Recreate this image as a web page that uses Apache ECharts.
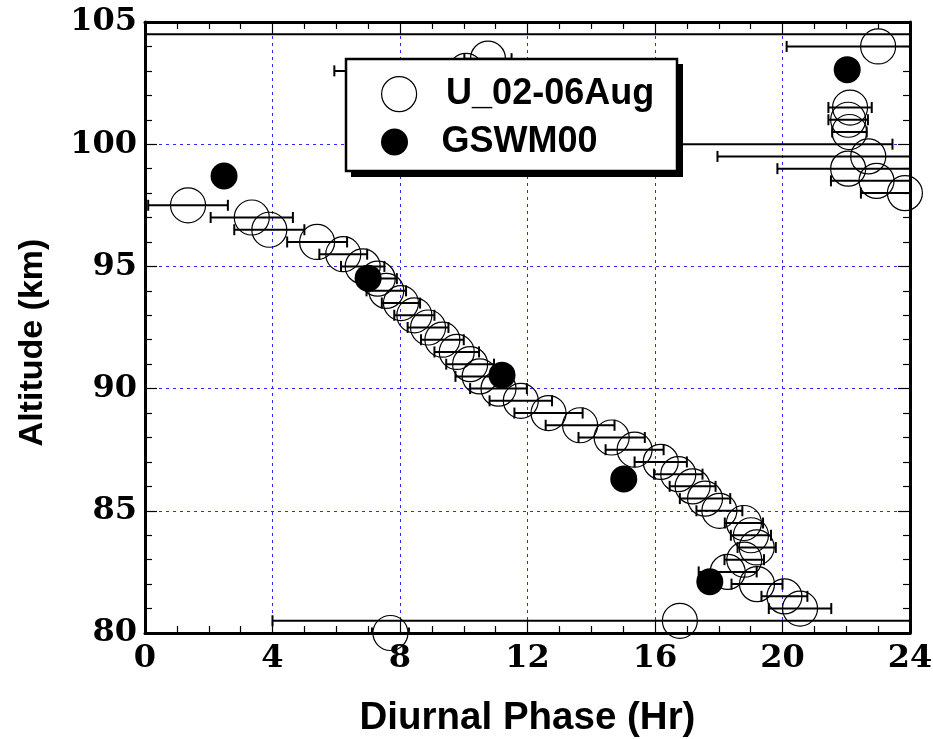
<!DOCTYPE html>
<html>
<head>
<meta charset="utf-8">
<script src="https://cdn.jsdelivr.net/npm/echarts@6/dist/echarts.min.js"></script>
<style>
  html, body { margin: 0; padding: 0; background: #fff; }
  #chart { width: 933px; height: 739px; }
</style>
</head>
<body>
<div id="chart"></div>
<script>
// Observed diurnal phase profile (altitude, phase, error half-width), 0.5 km steps
const uAlt = [80.0, 80.5, 81.0, 81.5, 82.0, 82.5, 83.0, 83.5, 84.0, 84.5,
              85.0, 85.5, 86.0, 86.5, 87.0, 87.5, 88.0, 88.5, 89.0, 89.5,
              90.0, 90.5, 91.0, 91.5, 92.0, 92.5, 93.0, 93.5, 94.0, 94.5,
              95.0, 95.5, 96.0, 96.5, 97.0, 97.5, 98.0, 98.5, 99.0, 99.5,
              100.0, 100.5, 101.0, 101.5, 103.0, 103.5, 104.0, 104.5];
const uPhase = [7.70, 16.78, 20.55, 20.06, 19.20, 18.28, 18.80, 19.19, 19.01, 18.79,
                18.02, 17.57, 17.18, 16.73, 16.18, 15.36, 14.64, 13.65, 12.66, 11.79,
                11.09, 10.50, 10.20, 9.78, 9.33, 8.88, 8.45, 8.03, 7.57, 7.30,
                6.83, 6.22, 5.40, 3.90, 3.35, 1.35, 23.84, 22.95, 22.06, 22.69,
                15.60, 22.10, 22.06, 22.12, 10.07, 10.76, 23.00, 24.70];
const uErr = [0.58, 12.78, 0.98, 0.72, 0.80, 0.91, 0.62, 0.60, 0.63, 0.60,
              0.72, 0.79, 0.72, 0.76, 0.82, 0.91, 1.04, 1.08, 1.07, 0.98,
              0.89, 0.76, 0.75, 0.70, 0.67, 0.64, 0.63, 0.60, 0.62, 0.60,
              0.68, 0.75, 0.94, 1.10, 1.29, 1.25, 1.38, 1.43, 2.22, 4.73,
              7.85, 0.54, 0.62, 0.68, 4.13, 0.74, 2.87, 25.00];

// GSWM00 model phases
const gswmAlt = [98.7, 94.52, 90.55, 86.3, 82.1, 103.05];
const gswmPhase = [2.48, 7.00, 11.20, 15.02, 17.72, 22.03];

// Axis ranges: [min, max, major step, minor divisions]
const xAxisRange = [0, 24, 4, 4];
const yAxisRange = [80, 105, 5, 5];

const seriesNames = ['U_02-06Aug', 'GSWM00'];
const xTitle = 'Diurnal Phase (Hr)';
const yTitle = 'Altitude (km)';

const openPoints = uAlt.map((a, i) => [uPhase[i], a]);
const errBars = uAlt.map((a, i) => [uPhase[i] - uErr[i], uPhase[i] + uErr[i], a]);
const gswmPoints = gswmAlt.map((a, i) => [gswmPhase[i], a]);

const tickFont = { fontFamily: 'DejaVu Serif', fontWeight: 'bold', fontSize: 32, color: '#000' };
const frameLine = { show: true, onZero: false, lineStyle: { color: '#000', width: 3 } };
const gridLine = { show: true, lineStyle: { color: '#2a2aff', width: 1, type: [3, 4] } };

function xAxisDef(pos, main) {
  return {
    type: 'value', position: pos,
    min: xAxisRange[0], max: xAxisRange[1], interval: xAxisRange[2],
    axisLine: frameLine,
    axisTick: { show: true, inside: true, length: 12, lineStyle: { color: '#000', width: 1.2 } },
    minorTick: { show: true, splitNumber: xAxisRange[3], length: 7, lineStyle: { color: '#000', width: 1.2 } },
    axisLabel: main ? Object.assign({ show: true, margin: 10 }, tickFont) : { show: false },
    splitLine: main ? gridLine : { show: false },
    name: main ? xTitle : '',
    nameLocation: 'middle', nameGap: 66,
    nameTextStyle: { fontFamily: 'Liberation Sans', fontWeight: 'bold', fontSize: 38.5, color: '#000' }
  };
}
function yAxisDef(pos, main) {
  return {
    type: 'value', position: pos,
    min: yAxisRange[0], max: yAxisRange[1], interval: yAxisRange[2],
    axisLine: frameLine,
    axisTick: { show: true, inside: true, length: 12, lineStyle: { color: '#000', width: 1.2 } },
    minorTick: { show: true, splitNumber: yAxisRange[3], length: 7, lineStyle: { color: '#000', width: 1.2 } },
    axisLabel: main ? Object.assign({ show: true, margin: 8 }, tickFont) : { show: false },
    splitLine: main ? gridLine : { show: false },
    name: main ? yTitle : '',
    nameLocation: 'middle', nameGap: 95, nameRotate: 90,
    nameTextStyle: { fontFamily: 'Liberation Sans', fontWeight: 'bold', fontSize: 34, color: '#000',
                     padding: [0, 30, 0, 0] }
  };
}

const legendText = { fontFamily: 'Liberation Sans', fontWeight: 'bold', fontSize: 36, color: '#000' };

const chart = echarts.init(document.getElementById('chart'), null, { renderer: 'canvas' });
chart.setOption({
  animation: false,
  backgroundColor: '#fff',
  grid: { left: 145, right: 23, top: 22, bottom: 106, outerBoundsMode: 'none', containLabel: false },
  xAxis: [xAxisDef('bottom', true), xAxisDef('top', false)],
  yAxis: [yAxisDef('left', true), yAxisDef('right', false)],
  graphic: [
    { type: 'rect', z: 20, shape: { x: 351, y: 64, width: 332, height: 113 }, style: { fill: '#000' } },
    { type: 'rect', z: 21, shape: { x: 346, y: 59, width: 331, height: 112 },
      style: { fill: '#fff', stroke: '#000', lineWidth: 2.5 } }
  ],
  legend: [
    { data: [seriesNames[0]], left: 381, top: 76, padding: 0, itemWidth: 84, itemHeight: 35,
      selectedMode: false, z: 30, textStyle: Object.assign({ lineHeight: 35 }, legendText),
      itemStyle: { borderWidth: 1.2, opacity: 1 } },
    { data: [seriesNames[1]], left: 381, top: 124, padding: 0, itemWidth: 84, itemHeight: 27,
      selectedMode: false, z: 30, textStyle: Object.assign({ lineHeight: 27 }, legendText),
      itemStyle: { opacity: 1 } }
  ],
  series: [
    {
      name: seriesNames[0], type: 'scatter', z: 2, clip: true,
      symbol: 'circle', symbolSize: 35,
      itemStyle: { color: 'rgba(0,0,0,0)', borderColor: '#000', borderWidth: 1.2, opacity: 1 },
      data: openPoints
    },
    {
      name: 'errbar', type: 'custom', z: 3, clip: true,
      encode: { x: [0, 1], y: 2 },
      renderItem: function (params, api) {
        const y = api.value(2);
        const lo = api.coord([api.value(0), y]);
        const hi = api.coord([api.value(1), y]);
        const cap = 5.5;
        const style = { stroke: '#000', lineWidth: 2 };
        return {
          type: 'group',
          children: [
            { type: 'line', shape: { x1: lo[0], y1: lo[1], x2: hi[0], y2: hi[1] }, style: style },
            { type: 'line', shape: { x1: lo[0], y1: lo[1] - cap, x2: lo[0], y2: lo[1] + cap }, style: style },
            { type: 'line', shape: { x1: hi[0], y1: hi[1] - cap, x2: hi[0], y2: hi[1] + cap }, style: style }
          ]
        };
      },
      data: errBars
    },
    {
      name: seriesNames[1], type: 'scatter', z: 4, clip: true,
      symbol: 'circle', symbolSize: 27,
      itemStyle: { color: '#000', opacity: 1 },
      data: gswmPoints
    }
  ]
});
</script>
</body>
</html>
